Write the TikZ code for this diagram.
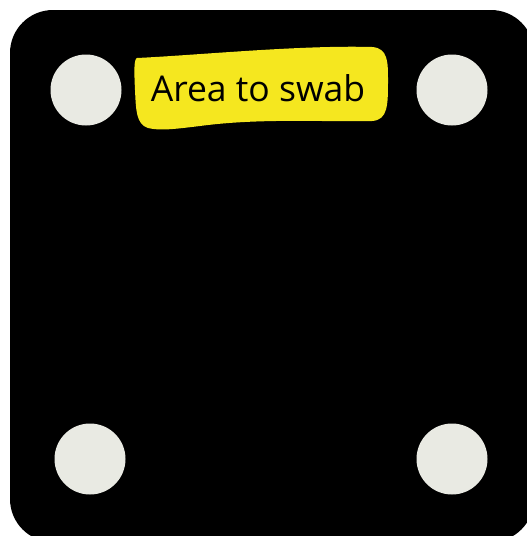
\documentclass[tikz,border=0pt]{standalone}
\usepackage{fontspec}
\setmainfont{Open Sans}
\definecolor{hole}{HTML}{E9EAE3}
\definecolor{swab}{HTML}{F5E71F}
\begin{document}
\begin{tikzpicture}[x=1pt,y=-1pt,
  hole/.style={circle,fill=hole,minimum size=71pt,inner sep=0pt},
  label/.style={font=\fontsize{35.5}{38}\selectfont,text=black,inner sep=0pt}]
\useasboundingbox (0,0) rectangle (527,536);
\fill[white] (0,0) rectangle (527,536);
\begin{scope}
\clip (0,0) rectangle (527,536);
\fill[black,rounded corners=43pt] (10,10) rectangle (534,542);
\end{scope}
\fill[swab] (137,58) .. controls (200,55) and (300,45) .. (372,47)
  .. controls (388,48) and (388,62) .. (388,80)
  .. controls (388,105) and (388,120) .. (372,121)
  .. controls (320,122) and (260,118) .. (200,126)
  .. controls (175,129) and (160,131) .. (148,128)
  .. controls (136,124) and (136,110) .. (135,90)
  .. controls (134,70) and (134,59) .. (137,58) -- cycle;
\node[label] (txt) at (258,88) {Area to swab};
\node[hole] (h1) at (86,90) {};
\node[hole] (h2) at (452,90) {};
\node[hole] (h3) at (90,459) {};
\node[hole] (h4) at (452,459) {};
\end{tikzpicture}
\end{document}
